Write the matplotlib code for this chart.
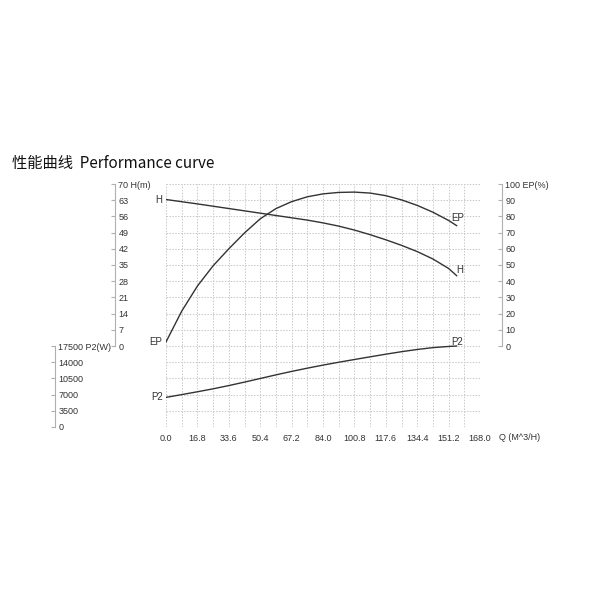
import numpy as np
import matplotlib
matplotlib.use("Agg")
import matplotlib.pyplot as plt

plt.rcParams['font.family'] = ['Liberation Sans', 'DejaVu Sans']

# flow (m3/h) and the three curves
q = [0.0, 8.4, 16.8, 25.2, 33.6, 42.0, 50.4, 58.8, 67.2, 75.6, 84.0, 92.4,
     100.8, 109.2, 117.6, 126.0, 134.4, 142.8, 151.2, 155.5]
head = [63.3, 62.35, 61.4, 60.4, 59.4, 58.4, 57.4, 56.4, 55.4, 54.4, 53.2, 51.8,
        50.1, 48.1, 45.9, 43.5, 40.8, 37.6, 33.5, 30.4]
eff = [2.5, 21.5, 37.0, 49.5, 60.0, 69.8, 78.5, 84.8, 89.1, 92.1, 93.9, 94.8,
       95.0, 94.4, 92.8, 90.2, 86.8, 82.6, 77.5, 74.3]
power = [6400, 7000, 7610, 8250, 8950, 9700, 10480, 11260, 12010, 12710, 13370,
         13990, 14580, 15160, 15730, 16270, 16750, 17150, 17400, 17490]

q_ticks = [0.0, 16.8, 33.6, 50.4, 67.2, 84.0, 100.8, 117.6, 134.4, 151.2, 168.0]
q_minor = [8.4, 25.2, 42.0, 58.8, 75.6, 92.4, 109.2, 126.0, 142.8, 159.6]
h_ticks = [0, 7, 14, 21, 28, 35, 42, 49, 56, 63, 70]
ep_ticks = [0, 10, 20, 30, 40, 50, 60, 70, 80, 90, 100]
p2_ticks = [0, 3500, 7000, 10500, 14000, 17500]

TXT = '#333333'
AXC = '#b0b0b0'
LINE = '#333333'

fig = plt.figure(figsize=(6, 6), dpi=100)


def frame(x0, y0, x1, y1):
    return [x0 / 600, 1 - y1 / 600, (x1 - x0) / 600, (y1 - y0) / 600]


PX0, PX1 = 166, 480
ax = fig.add_axes(frame(PX0, 184, PX1, 427))
ax.set_xlim(0, 168)
ax.set_ylim(-35, 70)
for s in ax.spines.values():
    s.set_visible(False)
ax.set_xticks(q_ticks)
ax.set_xticklabels([f'{v:.1f}' for v in q_ticks])
ax.set_xticks(q_minor, minor=True)
ax.set_yticks(np.arange(-35, 70.1, 7))
ax.set_yticklabels([])
ax.tick_params(which='both', length=0)
ax.tick_params(axis='x', pad=5, labelsize=6.5, labelcolor=TXT)
ax.grid(which='both', color='#c8c8c8', linestyle=(0, (1.5, 1.5)), linewidth=0.7)
ax.annotate('Q (M^3/H)', xy=(1, 0), xycoords='axes fraction',
            xytext=(14, -7.5), textcoords='offset points',
            ha='left', va='center', fontsize=6.5, color=TXT)


def side_axis(lim, x_px, ticks, unit):
    a = ax.twinx()
    a.set_ylim(*lim)
    for name, s in a.spines.items():
        s.set_visible(name == 'right')
    sp = a.spines['right']
    sp.set_position(('axes', (x_px - PX0) / (PX1 - PX0)))
    sp.set_bounds(ticks[0], ticks[-1])
    sp.set_color(AXC)
    sp.set_linewidth(0.8)
    labels = [str(t) for t in ticks]
    labels[-1] = labels[-1] + ' ' + unit
    a.set_yticks(ticks)
    a.set_yticklabels(labels)
    a.tick_params(axis='y', direction='in', length=3, width=0.8, color=AXC,
                  pad=2.5, labelsize=6.5, labelcolor=TXT)
    return a


hax = side_axis((-35, 70), 115, h_ticks, 'H(m)')
eax = side_axis((-50, 100), 502, ep_ticks, 'EP(%)')
pax = side_axis((0, 52500), 55, p2_ticks, 'P2(W)')

lab = dict(textcoords='offset points', fontsize=7, color=TXT, va='center')
for a, ys, name, end_off in [(hax, head, 'H', (2, 4)),
                             (eax, eff, 'EP', (0.7, 5.5)),
                             (pax, power, 'P2', (0, 3.2))]:
    a.plot(q, ys, color=LINE, linewidth=1.0)
    a.annotate(name, (q[0], ys[0]), xytext=(-2.5, 0), ha='right', **lab)
    a.annotate(name, (q[-1], ys[-1]), xytext=end_off, ha='center', **lab)

fig.text(12 / 600, 1 - 163 / 600, '性能曲线  Performance curve', fontsize=11,
         family=['Noto Sans CJK SC', 'DejaVu Sans'], color='#111111',
         ha='left', va='center')

fig.savefig('out.png', dpi=100)
